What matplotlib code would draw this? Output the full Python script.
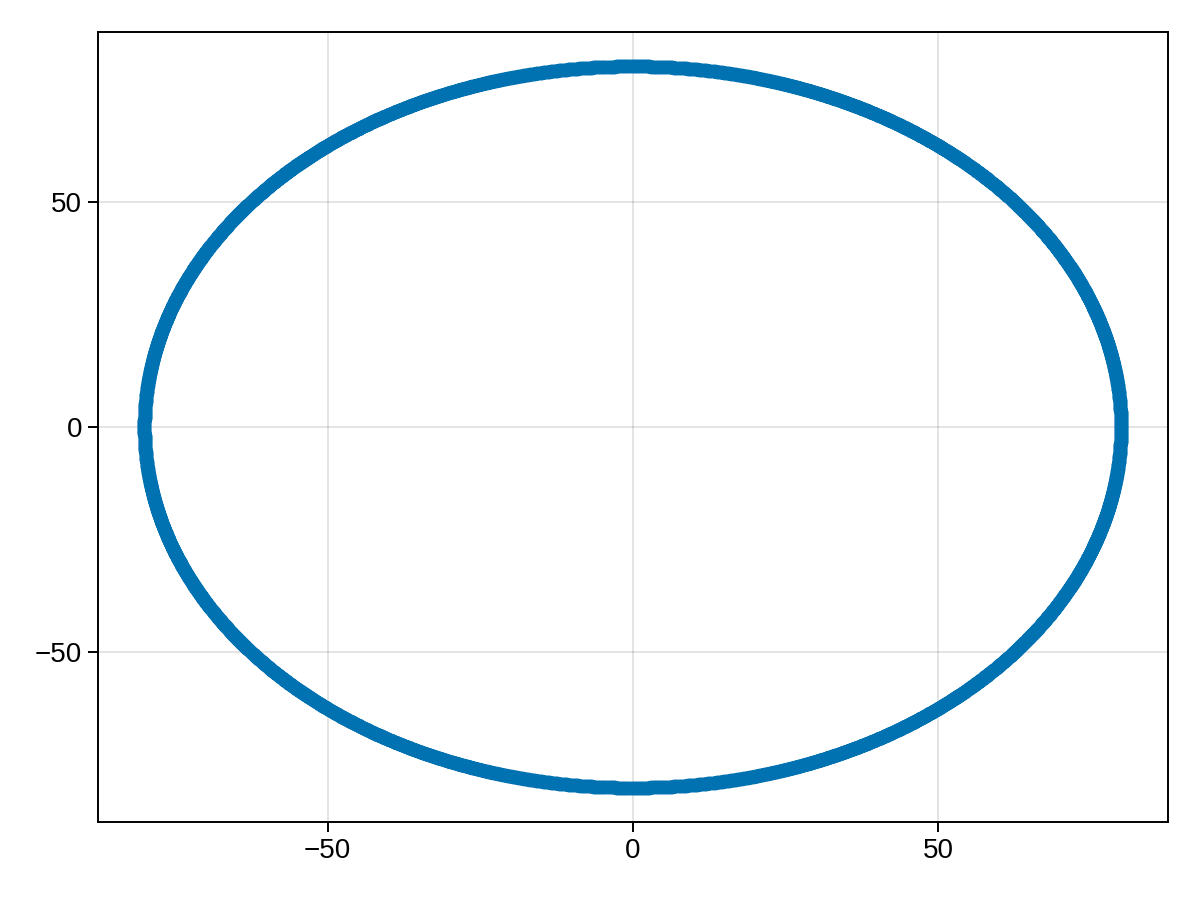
import numpy as np
import matplotlib.pyplot as plt

plt.rcParams['font.family'] = ['Liberation Sans', 'DejaVu Sans']

# data: points along a circle of radius 80
radius = 80
n_points = 6000
theta = np.linspace(0, 2 * np.pi, n_points)
x = radius * np.cos(theta)
y = radius * np.sin(theta)

ticks = [-50, 0, 50]
tick_labels = ['\u221250', '0', '50']

fig = plt.figure(figsize=(12, 9), dpi=100)
ax = fig.add_axes([98 / 1200, 1 - 822 / 900, 1070 / 1200, 790 / 900])

ax.scatter(x, y, s=92, color='#0072B2', linewidths=0, zorder=3)

ax.set_xlim(-87.6, 87.7)
ax.set_ylim(-87.6, 87.6)
ax.set_xticks(ticks)
ax.set_xticklabels(tick_labels)
ax.set_yticks(ticks)
ax.set_yticklabels(tick_labels)

ax.grid(True, color='black', alpha=0.11, linewidth=1.4)
ax.set_axisbelow(True)
ax.tick_params(direction='out', length=7.5, width=1.4, labelsize=20, pad=4)
for sp in ax.spines.values():
    sp.set_linewidth(1.4)

fig.savefig('out.png', dpi=100)
